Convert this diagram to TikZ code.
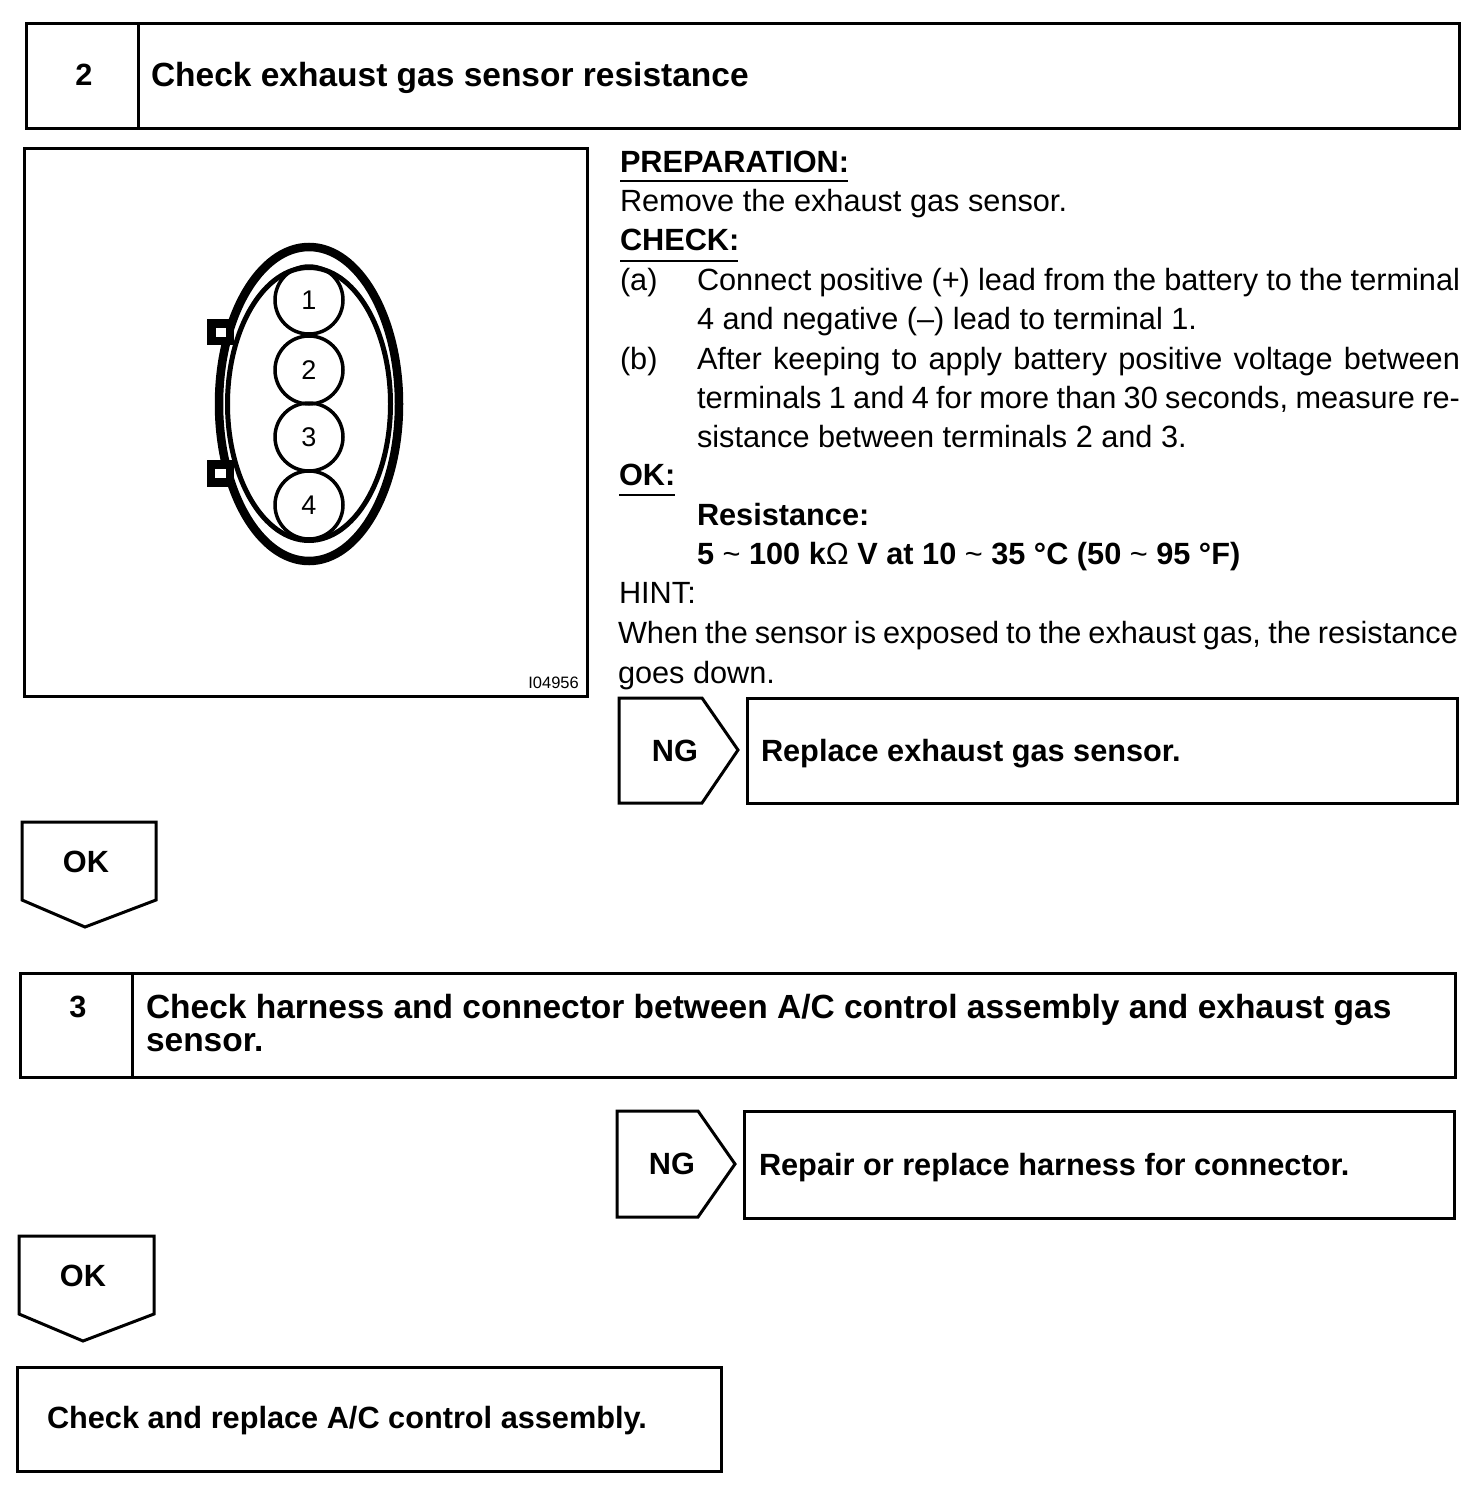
\documentclass[tikz,border=0pt]{standalone}
\usepackage{fontspec}
\setmainfont{Liberation Sans}
\newcommand{\bodyfs}{\fontsize{30.7}{39}\selectfont}
\newcommand{\headfs}{\fontsize{30.7}{39}\selectfont\bfseries}
\newcommand{\titlefs}{\fontsize{33.5}{39}\selectfont\bfseries}
\tikzset{
  x=1pt,y=-1pt,
  frame/.style={draw=black,line width=3pt,line join=miter},
  linetext/.style={anchor=base west,inner sep=0pt,outer sep=0pt,font=\bodyfs},
  boldtext/.style={anchor=base west,inner sep=0pt,outer sep=0pt,font=\headfs},
  titletext/.style={anchor=base west,inner sep=0pt,outer sep=0pt,font=\titlefs},
  numtext/.style={anchor=base,inner sep=0pt,outer sep=0pt,font=\headfs},
  uline/.style={draw=black,line width=2pt},
  pin/.style={draw=black,line width=3.5pt,circle,minimum size=68pt,inner sep=0pt,font=\fontsize{27}{30}\selectfont},
  tabbox/.style={draw=black,line width=8.5pt,fill=white},
}
\begin{document}
\begin{tikzpicture}
\useasboundingbox (0,0) rectangle (1472,1512);
% step 2
\draw[frame] (26,24) rectangle (1459,128);
\draw[frame] (138,24) -- (138,128);
\node[numtext] (n2) at (84,85) {2};
\node[titletext] (t2) at (151,86) {Check exhaust gas sensor resistance};
% figure
\draw[frame] (24,148) rectangle (587,696);
\draw[black,line width=8.5pt] (309,404) ellipse [x radius=90,y radius=157];
\draw[tabbox] (211.5,323.5) rectangle (230,341);
\draw[tabbox] (211,464.5) rectangle (230,482.5);
\draw[black,line width=5pt] (309,404) ellipse [x radius=81.5,y radius=136.5];
\node[pin] (p1) at (309,300) {1};
\node[pin] (p2) at (309,370) {2};
\node[pin] (p3) at (309,437) {3};
\node[pin] (p4) at (309,505) {4};
\node[anchor=base east,inner sep=0pt,font=\fontsize{16.5}{18}\selectfont] (code) at (579,688) {I04956};
% right text
\node[boldtext] (prep) at (620,172) {PREPARATION:};
\draw[uline] (620,181) -- (848,181);
\node[linetext] (l1) at (620,211) {Remove the exhaust gas sensor.};
\node[boldtext] (chk) at (620,250) {CHECK:};
\draw[uline] (620,261) -- (738,261);
\node[linetext] (la) at (620,290) {(a)};
\node[linetext] (l2) at (697,290) {\makebox[763pt][s]{Connect positive (+) lead from the battery to the terminal}};
\node[linetext] (l3) at (697,329) {4 and negative (–) lead to terminal 1.};
\node[linetext] (lb) at (620,369) {(b)};
\node[linetext] (l4) at (697,369) {\makebox[763pt][s]{After keeping to apply battery positive voltage between}};
\node[linetext] (l5) at (697,408) {\makebox[763pt][s]{terminals 1 and 4 for more than 30 seconds, measure re-}};
\node[linetext] (l6) at (697,447) {sistance between terminals 2 and 3.};
\node[boldtext] (okh) at (619,485) {OK:};
\draw[uline] (619,495) -- (675,495);
\node[boldtext] (res) at (697,525) {Resistance:};
\node[boldtext] (val) at (697,564) {5 {\mdseries\textasciitilde} 100 k{\mdseries Ω} V at 10 {\mdseries\textasciitilde} 35 °C (50 {\mdseries\textasciitilde} 95 °F)};
\node[linetext] (hint) at (619,603) {HINT:};
\node[linetext] (l7) at (618,643) {\makebox[840pt][s]{When the sensor is exposed to the exhaust gas, the resistance}};
\node[linetext] (l8) at (618,683) {goes down.};
% NG 1
\draw[frame] (619,698) -- (702,698) -- (738,750) -- (702,803) -- (619,803) -- cycle;
\node[numtext] (ng1) at (675,761) {NG};
\draw[frame] (747,698) rectangle (1457,803);
\node[boldtext] (r1) at (761,761) {Replace exhaust gas sensor.};
% OK 1
\draw[frame] (22,822) -- (156,822) -- (156,900) -- (85,927) -- (22,900) -- cycle;
\node[numtext] (ok1) at (86,872) {OK};
% step 3
\draw[frame] (20,973) rectangle (1455,1077);
\draw[frame] (132,973) -- (132,1077);
\node[numtext] (n3) at (78,1017) {3};
\node[titletext] (t3a) at (146,1018) {Check harness and connector between A/C control assembly and exhaust gas};
\node[titletext] (t3b) at (146,1051) {sensor.};
% NG 2
\draw[frame] (617,1111) -- (698,1111) -- (735,1164) -- (698,1217) -- (617,1217) -- cycle;
\node[numtext] (ng2) at (672,1174) {NG};
\draw[frame] (744,1111) rectangle (1454,1218);
\node[boldtext] (r2) at (759,1175) {Repair or replace harness for connector.};
% OK 2
\draw[frame] (19,1236) -- (154,1236) -- (154,1314) -- (83,1341) -- (19,1314) -- cycle;
\node[numtext] (ok2) at (83,1286) {OK};
% final
\draw[frame] (17,1367) rectangle (721,1471);
\node[boldtext] (fin) at (47,1428) {Check and replace A/C control assembly.};
\end{tikzpicture}
\end{document}
